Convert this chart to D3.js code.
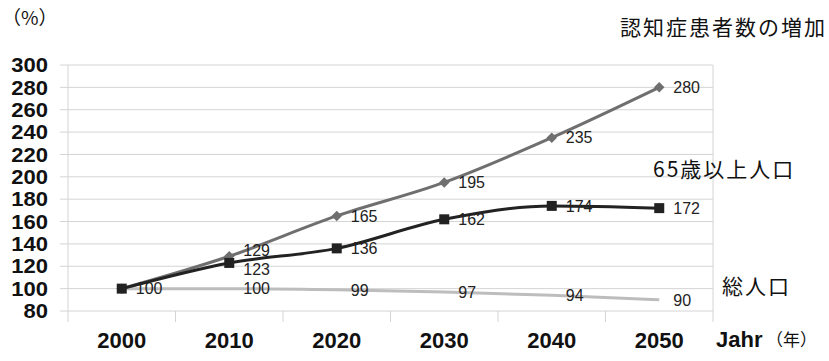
<!DOCTYPE html>
<html>
<head>
<meta charset="utf-8">
<script src="https://cdn.jsdelivr.net/npm/d3@7"></script>
<style>
body { margin: 0; background: #fff; }
svg { display: block; font-family: "Liberation Sans", Arial, "Noto Sans CJK JP", sans-serif; }
.jp { font-family: "Noto Sans CJK JP", sans-serif; }
</style>
</head>
<body>
<div id="chart"></div>
<script>
var years = [2000, 2010, 2020, 2030, 2040, 2050]
var dementia = [100, 129, 165, 195, 235, 280]
var elderly = [100, 123, 136, 162, 174, 172]
var population = [100, 100, 99, 97, 94, 90]
var yTicks = [80, 100, 120, 140, 160, 180, 200, 220, 240, 260, 280, 300]

var width = 829, height = 361
var plot = {left: 68, right: 713, top: 65, bottom: 311}

var svg = d3.select('#chart').append('svg')
	.attr('width', width).attr('height', height)

var x = d3.scaleBand().domain(years).range([plot.left, plot.right])
var y = d3.scaleLinear().domain([80, 300]).range([plot.bottom, plot.top])

// grid lines
svg.append('g').selectAll('line').data(yTicks).enter().append('line')
	.attr('x1', 60).attr('x2', plot.right)
	.attr('y1', function(d) { return y(d) }).attr('y2', function(d) { return y(d) })
	.attr('stroke', '#d4d4d4').attr('stroke-width', 1)

// axis frame
svg.append('line').attr('x1', plot.left).attr('x2', plot.left)
	.attr('y1', plot.top).attr('y2', plot.bottom + 11)
	.attr('stroke', '#d4d4d4')
svg.append('line').attr('x1', plot.right).attr('x2', plot.right)
	.attr('y1', plot.top).attr('y2', plot.bottom + 11)
	.attr('stroke', '#d4d4d4')
svg.append('g').selectAll('line').data(years.slice(1)).enter().append('line')
	.attr('x1', function(d) { return x(d) }).attr('x2', function(d) { return x(d) })
	.attr('y1', plot.bottom).attr('y2', plot.bottom + 11)
	.attr('stroke', '#d4d4d4')

// y labels
svg.append('g').selectAll('text').data(yTicks).enter().append('text')
	.attr('x', 48).attr('y', function(d) { return y(d) })
	.attr('dy', '0.36em').attr('text-anchor', 'end')
	.attr('font-size', 20).attr('font-weight', 'bold').attr('fill', '#111')
	.attr('transform', function(d) { return 'translate(48,' + y(d) + ') scale(1.1,1) translate(-48,' + (-y(d)) + ')' })
	.text(function(d) { return d })

// x labels
svg.append('g').selectAll('text').data(years).enter().append('text')
	.attr('x', function(d) { return x(d) + x.bandwidth() / 2 }).attr('y', 348)
	.attr('text-anchor', 'middle')
	.attr('font-size', 22).attr('font-weight', 'bold').attr('fill', '#111')
	.text(function(d) { return d })

svg.append('text').attr('x', 716).attr('y', 347)
	.attr('font-size', 22).attr('font-weight', 'bold').attr('fill', '#111').text('Jahr')
svg.append('text').attr('class', 'jp').attr('x', 766).attr('y', 346)
	.attr('font-size', 17).attr('fill', '#111').text('（年）')
svg.append('text').attr('class', 'jp').attr('x', 2).attr('y', 25)
	.attr('font-size', 19).attr('fill', '#111').text('（%）')

var cx = function(i) { return x(years[i]) + x.bandwidth() / 2 }
var line = d3.line().x(function(d, i) { return cx(i) }).y(function(d) { return y(d) })
	.curve(d3.curveMonotoneX)

// total population
svg.append('path').datum(population).attr('d', line)
	.attr('fill', 'none').attr('stroke', '#bdbdbd').attr('stroke-width', 3)

// dementia
svg.append('path').datum(dementia).attr('d', line)
	.attr('fill', 'none').attr('stroke', '#6f6f6f').attr('stroke-width', 3)
svg.append('g').selectAll('path').data(dementia).enter().append('path')
	.attr('d', d3.symbol().type(d3.symbolDiamond2).size(70))
	.attr('transform', function(d, i) { return 'translate(' + cx(i) + ',' + y(d) + ')' })
	.attr('fill', '#6f6f6f')

// 65+
svg.append('path').datum(elderly).attr('d', line)
	.attr('fill', 'none').attr('stroke', '#222').attr('stroke-width', 3)
svg.append('g').selectAll('rect').data(elderly).enter().append('rect')
	.attr('x', function(d, i) { return cx(i) - 5 }).attr('y', function(d) { return y(d) - 5 })
	.attr('width', 10).attr('height', 10).attr('fill', '#222')

// data labels
function addLabels(data, skipFirst, shift) {
	data.forEach(function(d, i) {
		if (skipFirst && i == 0) return
		var dy = i == 1 ? shift : 0
		svg.append('text').attr('x', cx(i) + 14).attr('y', y(d) + dy)
			.attr('dy', '0.36em').attr('font-size', 16).attr('fill', '#222')
			.text(d)
	})
}
addLabels(population, false, 0)
addLabels(dementia, true, -6)
addLabels(elderly, true, 6)

// series names
svg.append('text').attr('class', 'jp').attr('x', 620).attr('y', 35)
	.attr('font-size', 21).attr('letter-spacing', 2).attr('fill', '#111').text('認知症患者数の増加')
svg.append('text').attr('class', 'jp').attr('x', 653).attr('y', 177)
	.attr('font-size', 21).attr('letter-spacing', 2).attr('fill', '#111').text('65歳以上人口')
svg.append('text').attr('class', 'jp').attr('x', 722).attr('y', 294)
	.attr('font-size', 21).attr('letter-spacing', 2).attr('fill', '#111').text('総人口')
</script>
</body>
</html>
